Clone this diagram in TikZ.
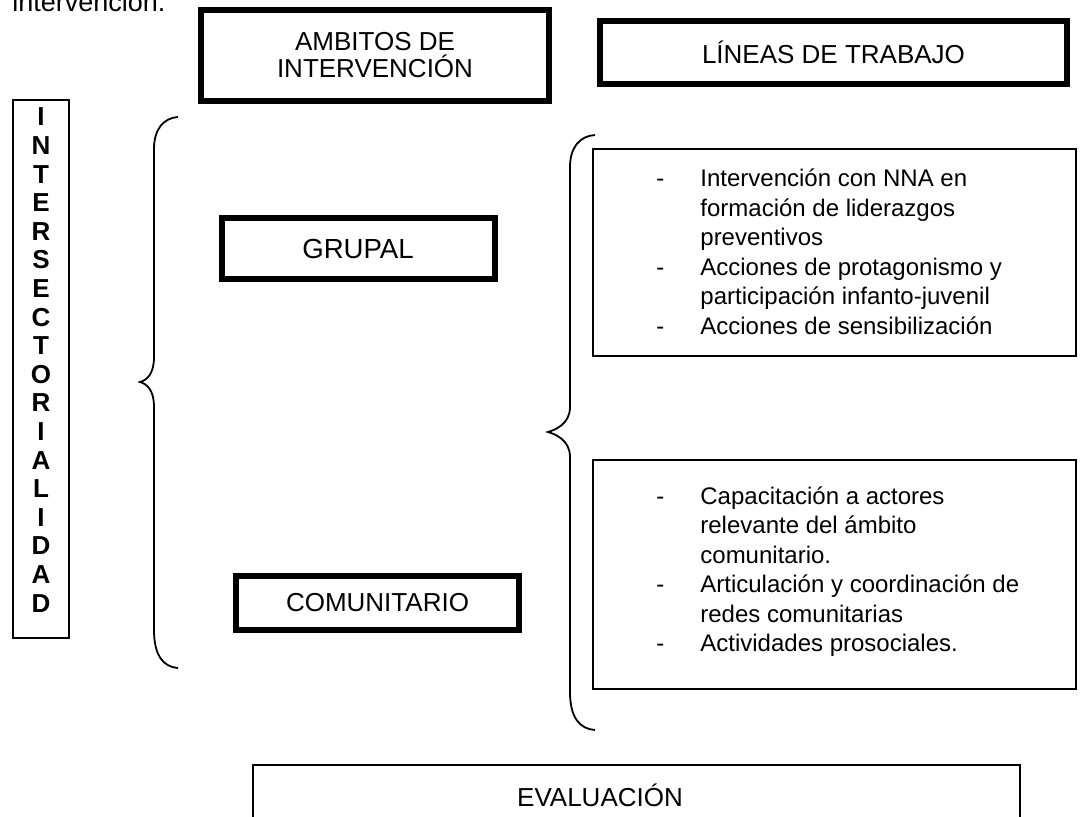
\documentclass[tikz,border=0pt]{standalone}
\usepackage{fontspec}
\setmainfont{Liberation Sans}
\usepackage{array}
\newcommand {\llave}[6] {\draw[line width=0.9pt] (#3,#4) .. controls ({#1+0.4*(#3-#1)},#4+1) and (#1,#4+12) .. (#1,#4+32)
                          -- (#1,#5-25) .. controls (#1,#5-8) and (#2+7,#5-2) .. (#2,#5)
                          .. controls (#2+7,#5+2) and (#1,#5+8) .. (#1,#5+25)
                          -- (#1,#6-38) .. controls (#1,#6-12) and ({#1+0.4*(#3-#1)},#6-1) .. (#3,#6);}
\newcommand {\lista}[4] {\node[lista] (#1) at (#2,#3) {\begin{tabular}[t]{@{}p{22pt}@{}l@{}}#4\end{tabular}};}

\begin{document}
\begin{tikzpicture}[x=0.5pt, y=-0.5pt,
        every node/.style={font=\fontsize{13}{13.5}\selectfont, inner sep=0pt},
        caja/.style={draw, line width=3pt},
        cajafina/.style={draw, line width=1pt},
        letra/.style={font=\bfseries\fontsize{13}{13}\selectfont},
        lista/.style={anchor=base west, font=\fontsize{12}{14.75}\selectfont}]
    \useasboundingbox (0,0) rectangle (1080,817);
        \node[anchor=base west, font=\fontsize{13.5}{14}\selectfont] (intro) at (12,12) {intervención.};
        \node[caja, align=center, minimum width=174pt, minimum height=45.5pt] (ambitos) at (375,55.5) {AMBITOS DE\\INTERVENCIÓN};
        \node[caja, minimum width=233.5pt, minimum height=31.5pt] (lineas) at (833.5,52.5) {LÍNEAS DE TRABAJO};
        \node[cajafina, minimum width=28pt, minimum height=269pt] (intersec) at (41,369) {};
        \foreach \letra [count=\i from 0] in {I,N,T,E,R,S,E,C,T,O,R,I,A,L,I,D,A,D}
            \node[letra] (l\i) at (41,{117+28.6*\i}) {\letra};
        \llave{154}{140}{178}{117}{382}{668}
        \node[caja, font=\fontsize{13.8}{14}\selectfont, minimum width=136.5pt, minimum height=30.5pt] (grupal) at (358,249) {GRUPAL};
        \node[caja, minimum width=141.5pt, minimum height=27pt] (comunitario) at (377.5,603) {COMUNITARIO};
        \llave{570}{548}{595}{135}{432}{730}
        \node[cajafina, minimum width=241.5pt, minimum height=103.5pt] (cajagrupal) at (834.5,252.5) {};
        \lista{lgrupal}{656}{187}{- & Intervención con NNA en\\
                                   & formación de liderazgos\\
                                   & preventivos\\
                                 - & Acciones de protagonismo y\\
                                   & participación infanto-juvenil\\
                                 - & Acciones de sensibilización}
        \node[cajafina, minimum width=241.5pt, minimum height=114.5pt] (cajacomunitario) at (834.5,574.5) {};
        \lista{lcomunitario}{656}{504}{- & Capacitación a actores\\
                                         & relevante del ámbito\\
                                         & comunitario.\\
                                       - & Articulación y coordinación de\\
                                         & redes comunitarias\\
                                       - & Actividades prosociales.}
        \node[cajafina, anchor=north, minimum width=383.5pt, minimum height=50pt] (cajaeval) at (636.5,764) {};
        \node (evaluacion) at (600,795) {EVALUACIÓN};
    \end{tikzpicture}
\end{document}
